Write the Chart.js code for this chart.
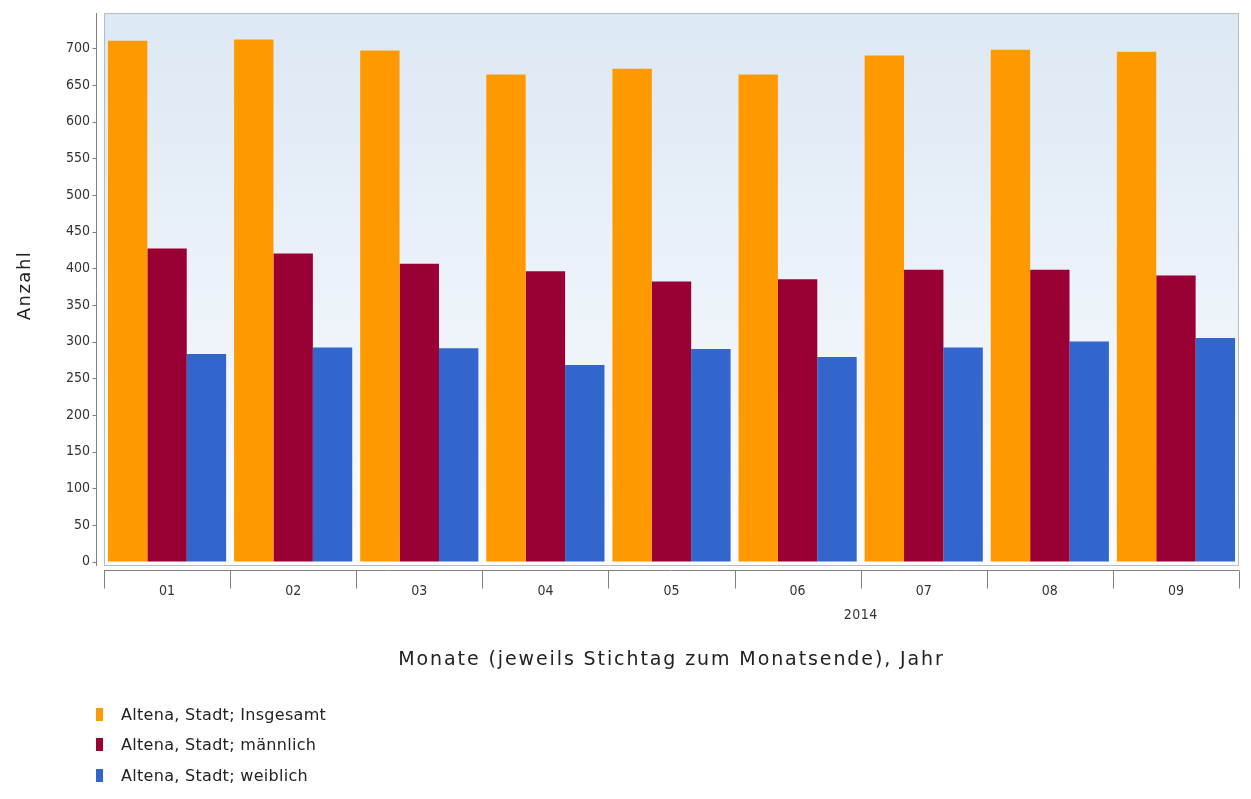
<!DOCTYPE html>
<html>
<head>
<meta charset="utf-8">
<script src="https://cdn.jsdelivr.net/npm/chart.js@4.4.1/dist/chart.umd.min.js"></script>
<style>
  html, body { margin: 0; padding: 0; background: #fff; }
  #wrap { position: relative; width: 1251px; height: 799px; }
  #legend { position: absolute; left: 96px; top: 699px; font-family: "DejaVu Sans"; font-size: 16px; letter-spacing: 0.3px; color: #222; }
  .item { height: 30.5px; display: flex; align-items: center; }
  .box { width: 7px; height: 13px; margin-right: 18px; }
</style>
</head>
<body>
<div id="wrap">
  <canvas id="chartAltena" width="1251" height="799"></canvas>
  <div id="legend"></div>
</div>
<script>
// Monate 2014 (Stichtag Monatsende)
const monate = ['01', '02', '03', '04', '05', '06', '07', '08', '09'];
const jahr = '2014';
const insgesamt = [710, 712, 697, 664, 672, 664, 690, 698, 695];
const maennlich = [427, 420, 406, 396, 382, 385, 398, 398, 390];
const weiblich = [283, 292, 291, 268, 290, 279, 292, 300, 305];
const yTickValues = [0, 50, 100, 150, 200, 250, 300, 350, 400, 450, 500, 550, 600, 650, 700];
const xTitel = 'Monate (jeweils Stichtag zum Monatsende), Jahr';
const yTitel = 'Anzahl';

const serien = [
  { label: 'Altena, Stadt; Insgesamt', data: insgesamt, color: '#ff9900' },
  { label: 'Altena, Stadt; männlich', data: maennlich, color: '#990033' },
  { label: 'Altena, Stadt; weiblich', data: weiblich, color: '#3366cc' }
];

// Hintergrund des Plotbereichs (Verlauf + Rahmen)
const plotBackground = {
  id: 'plotBackground',
  beforeDraw(chart) {
    const { ctx, chartArea: a } = chart;
    const g = ctx.createLinearGradient(0, a.top, 0, a.bottom);
    g.addColorStop(0, '#dce8f4');
    g.addColorStop(1, '#fbfcfe');
    ctx.save();
    ctx.fillStyle = g;
    ctx.fillRect(a.left, a.top, a.right - a.left, a.bottom - a.top);
    ctx.strokeStyle = '#b4bcc6';
    ctx.lineWidth = 1;
    ctx.strokeRect(a.left + 0.5, a.top + 0.5, a.right - a.left - 1, a.bottom - a.top - 1);
    ctx.restore();
  }
};

// Achsenlinien mit Abstand zum Plotbereich, wie im Original, plus Achsentitel
const offsetAxes = {
  id: 'offsetAxes',
  afterDraw(chart) {
    const { ctx, chartArea: a, scales } = chart;
    const x = scales.x, y = scales.y;
    ctx.save();
    ctx.strokeStyle = '#808080';
    ctx.lineWidth = 1;
    // y-Achse
    const ax = a.left - 7.5;
    ctx.beginPath();
    ctx.moveTo(ax, a.top);
    ctx.lineTo(ax, a.bottom);
    yTickValues.forEach(v => {
      const py = Math.round(y.getPixelForValue(v)) + 0.5;
      ctx.moveTo(ax - 4, py);
      ctx.lineTo(ax, py);
    });
    ctx.stroke();
    // x-Achse
    const ay = a.bottom + 4.5;
    ctx.beginPath();
    ctx.moveTo(a.left, ay);
    ctx.lineTo(a.right, ay);
    for (let i = 0; i <= monate.length; i++) {
      const px = Math.round(x.getPixelForValue(i - 0.5)) + 0.5;
      ctx.moveTo(px, ay);
      ctx.lineTo(px, ay + 18);
    }
    ctx.stroke();
    // Jahr unter den Monaten
    ctx.fillStyle = '#333';
    ctx.font = '14px "DejaVu Sans Condensed"';
    ctx.letterSpacing = '0.5px';
    ctx.textAlign = 'center';
    ctx.textBaseline = 'middle';
    ctx.fillText(jahr, x.getPixelForValue(5.5), 615);
    // Achsentitel (etwas gesperrt wie im Original)
    ctx.fillStyle = '#222';
    ctx.font = '19px "DejaVu Sans"';
    ctx.letterSpacing = '1.9px';
    ctx.fillText(xTitel, (a.left + a.right) / 2, 660);
    ctx.translate(25, (a.top + a.bottom) / 2 - 4);
    ctx.rotate(-Math.PI / 2);
    ctx.font = '18px "DejaVu Sans"';
    ctx.letterSpacing = '1.5px';
    ctx.fillText(yTitel, 0, 0);
    ctx.restore();
  }
};

function drawChart() {
  const ctx = document.getElementById('chartAltena').getContext('2d');
  new Chart(ctx, {
    type: 'bar',
    data: {
      labels: monate,
      datasets: serien.map(s => ({
        label: s.label,
        data: s.data,
        backgroundColor: s.color,
        borderWidth: 0,
        categoryPercentage: 0.937,
        barPercentage: 1
      }))
    },
    options: {
      responsive: false,
      animation: false,
      layout: { padding: { top: 13, right: 12, bottom: 119, left: 0 } },
      plugins: {
        legend: { display: false },
        tooltip: { enabled: false }
      },
      scales: {
        x: {
          grid: { display: false, drawTicks: false },
          border: { display: false },
          ticks: { padding: 17, color: '#333', font: { family: 'DejaVu Sans Condensed', size: 14 } },
          afterFit: scale => {
            scale.height = 114;
            scale.paddingLeft = 0;
            scale.paddingRight = 0;
          }
        },
        y: {
          min: -6,
          max: 748,
          grid: { display: false, drawTicks: false },
          border: { display: false },
          afterBuildTicks: scale => { scale.ticks = yTickValues.map(v => ({ value: v })); },
          ticks: { padding: 14, color: '#333', font: { family: 'DejaVu Sans Condensed', size: 14 } },
          afterFit: scale => {
            scale.width = 104;
            scale.paddingTop = 0;
            scale.paddingBottom = 0;
          }
        }
      }
    },
    plugins: [plotBackground, offsetAxes]
  });

  // Legende untereinander links unten
  const legend = document.getElementById('legend');
  serien.forEach(s => {
    const row = document.createElement('div');
    row.className = 'item';
    const box = document.createElement('span');
    box.className = 'box';
    box.style.background = s.color;
    const txt = document.createElement('span');
    txt.textContent = s.label;
    row.appendChild(box);
    row.appendChild(txt);
    legend.appendChild(row);
  });
}

document.addEventListener('DOMContentLoaded', drawChart);
</script>
</body>
</html>
